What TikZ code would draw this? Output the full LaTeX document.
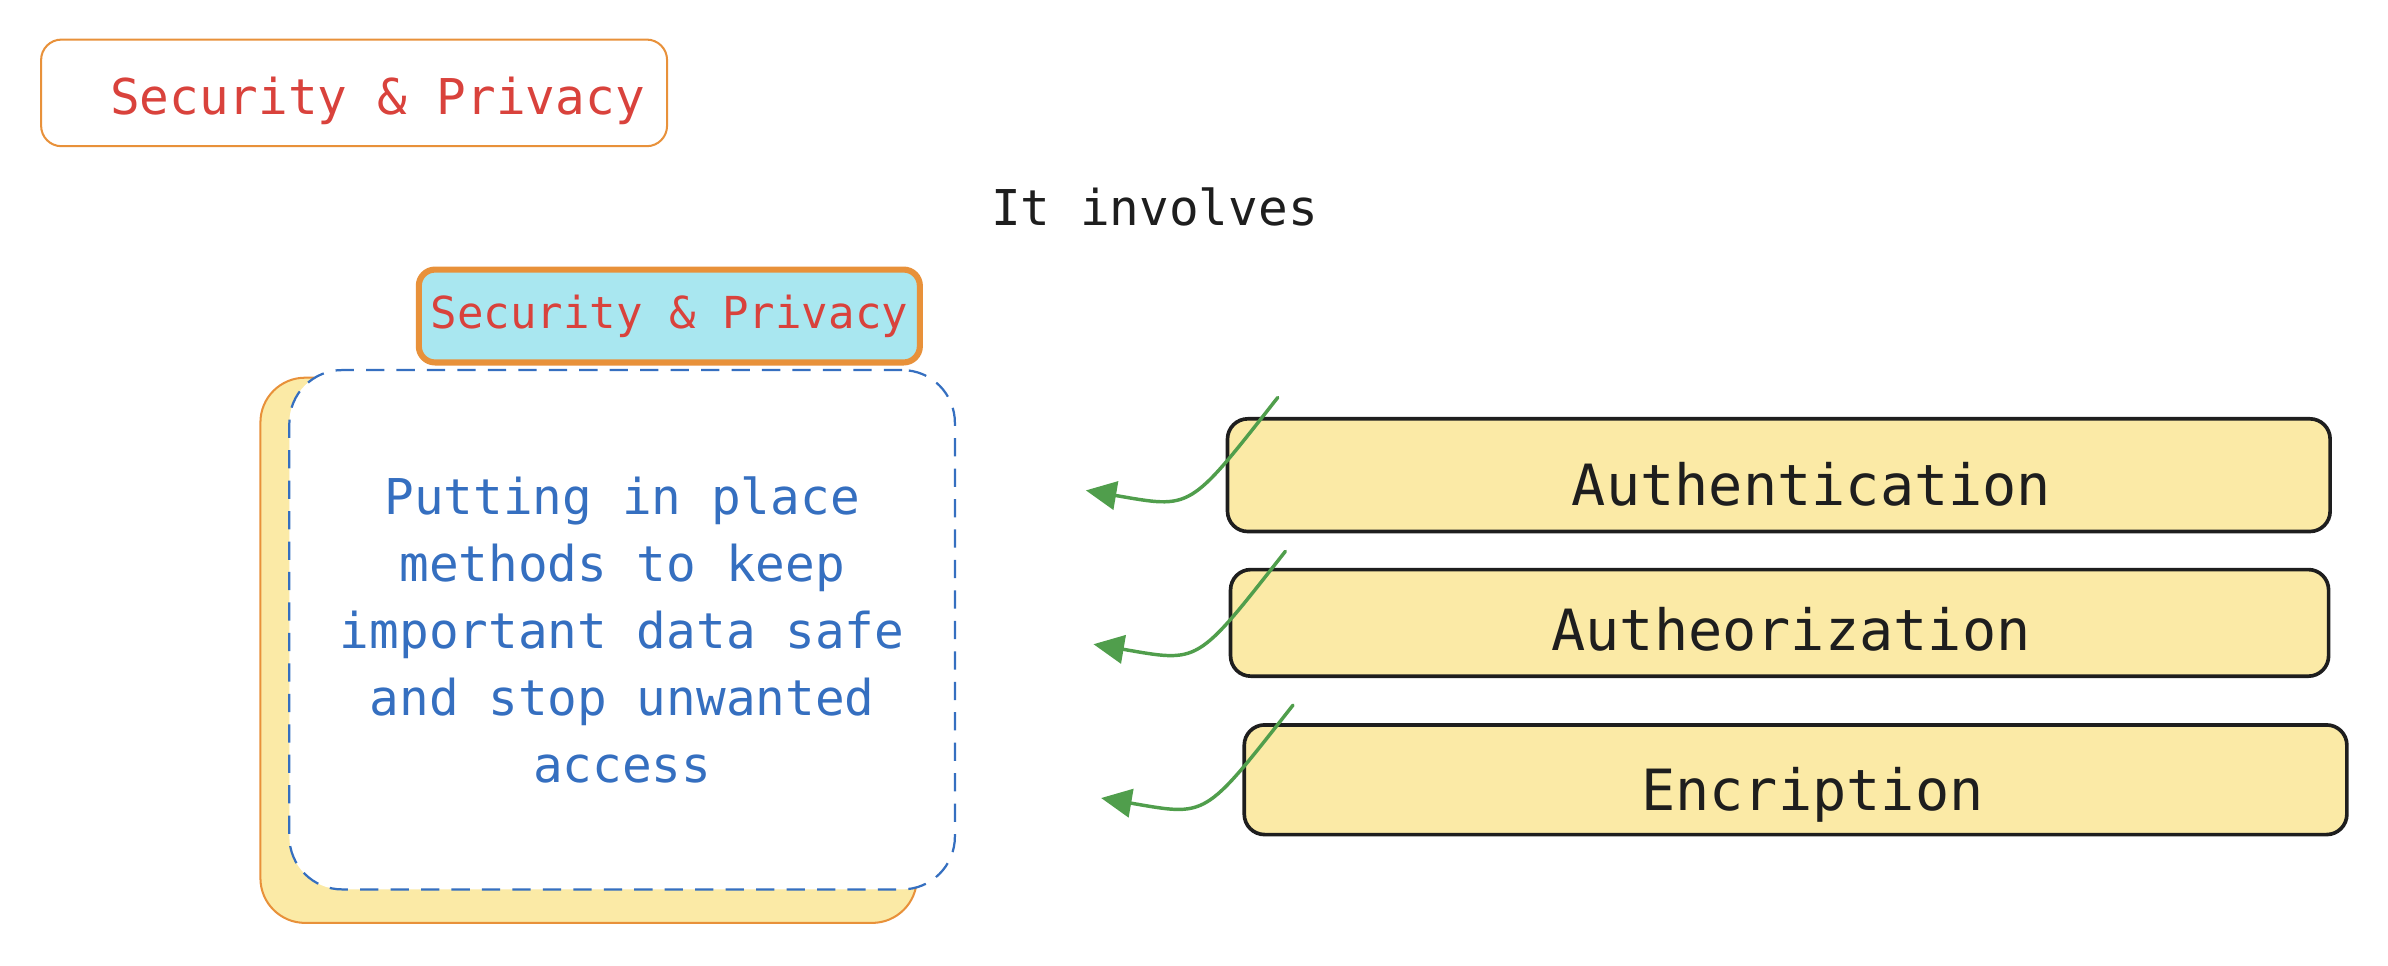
\documentclass[tikz,border=0pt]{standalone}
\usepackage{fontspec}
\setmonofont{DejaVu Sans Mono}
\usetikzlibrary{arrows.meta,calc}
\definecolor{redC}{HTML}{D9423C}
\definecolor{orangeC}{HTML}{E8913A}
\definecolor{cyanC}{HTML}{A9E7F0}
\definecolor{yellowC}{HTML}{FBEAA6}
\definecolor{blueC}{HTML}{356FC0}
\definecolor{greenC}{HTML}{509E4C}
\definecolor{inkC}{HTML}{1E1E1E}
\begin{document}
\begin{tikzpicture}[x=0.75pt,y=-0.75pt,
  tlbox/.style={draw=orangeC, line width=1pt, rounded corners=10pt, minimum width=308.25pt, minimum height=52.5pt, inner sep=0pt},
  bigtext/.style={font=\ttfamily\fontsize{24.3}{33}\selectfont},
  titlebox/.style={draw=orangeC, line width=3pt, fill=cyanC, rounded corners=8pt, minimum width=246.75pt, minimum height=45.75pt, inner sep=0pt, text=redC, font=\ttfamily\fontsize{21.7}{26}\selectfont},
  shadowbox/.style={draw=orangeC, line width=1pt, fill=yellowC, rounded corners=22pt, minimum width=323.25pt, minimum height=268.5pt, inner sep=0pt},
  dashbox/.style={draw=blueC, line width=1.1pt, dash pattern=on 9pt off 6pt, fill=white, rounded corners=26pt, minimum width=327.75pt, minimum height=255.75pt, inner sep=0pt, align=center, text=blueC, font=\ttfamily\fontsize{24.3}{33}\selectfont},
  itembox/.style={draw=inkC, line width=1.8pt, fill=yellowC, rounded corners=10pt, inner sep=0pt},
  itemtext/.style={anchor=base, inner sep=0pt, text=inkC, font=\ttfamily\fontsize{28}{32}\selectfont},
  greenarrow/.style={draw=greenC, line width=1.7pt, line cap=round, -{Triangle[length=15pt,width=14pt]}}
]
\useasboundingbox (0,0) rectangle (1568,634);

% top-left label
\node[tlbox] (tlbox) at (232.5,61) {};
\node[bigtext, text=redC, anchor=base west, inner sep=0pt] (tltext) at (72,75) {Security \& Privacy};

% It involves
\node[bigtext, text=inkC, anchor=base, inner sep=0pt] (involves) at (758,148) {It involves};

% title box
\node[titlebox] (title) at (439.5,207.5) {Security \& Privacy};

% yellow shadow and dashed description box
\node[shadowbox] (shadow) at (386.5,427) {};
\node[dashbox] (desc) at (408.5,413.5) {Putting in place\\methods to keep\\important data safe\\and stop unwanted\\access};

% item boxes
\node[itembox, minimum width=543pt, minimum height=55.5pt] (auth) at (1168,312) {};
\node[itemtext] (authT) at (1189.5,332) {Authentication};
\node[itembox, minimum width=540.75pt, minimum height=52.5pt] (autz) at (1168.5,409) {};
\node[itemtext] (autzT) at (1176,427) {Autheorization};
\node[itembox, minimum width=543pt, minimum height=54pt] (enc) at (1179,512) {};
\node[itemtext] (encT) at (1190,532) {Encription};

% arrows
\coordinate (s1) at (839,261);
\coordinate (e1) at (713,322);
\coordinate (s2) at (844,362);
\coordinate (e2) at (718,423);
\coordinate (s3) at (849,463);
\coordinate (e3) at (723,524);
\draw[greenarrow] (s1) .. controls ($(s1)+(-59,75)$) and ($(e1)+(70,12)$) .. (e1);
\draw[greenarrow] (s2) .. controls ($(s2)+(-59,75)$) and ($(e2)+(70,12)$) .. (e2);
\draw[greenarrow] (s3) .. controls ($(s3)+(-59,75)$) and ($(e3)+(70,12)$) .. (e3);
\end{tikzpicture}
\end{document}
